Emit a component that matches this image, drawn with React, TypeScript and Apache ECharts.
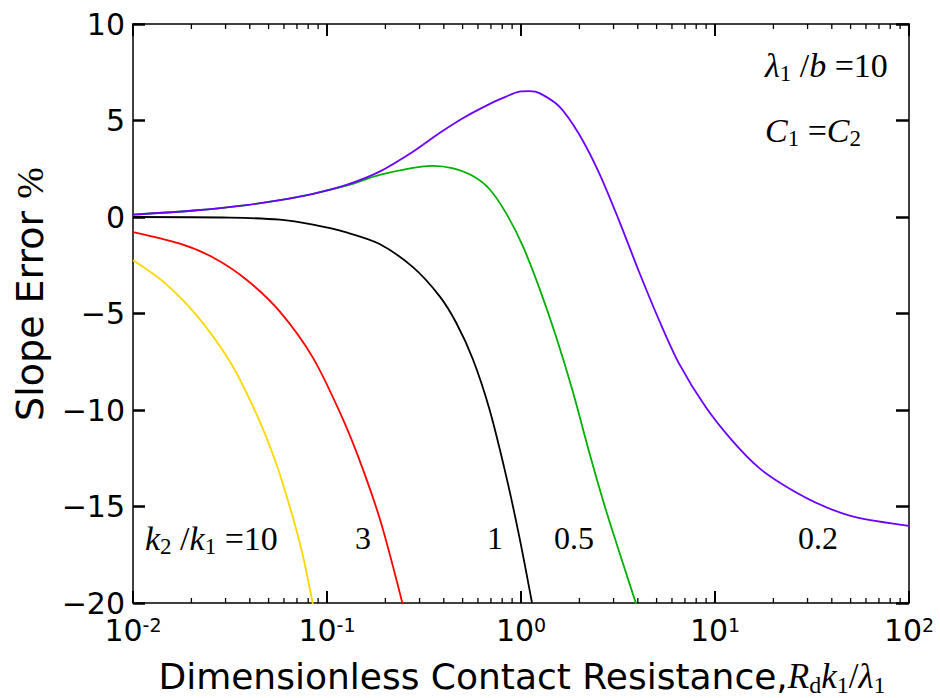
import React, { useEffect, useRef } from "react";
import * as echarts from "echarts";

// k2/k1 = 10 (yellow)
const yellowX = [0.01, 0.01432, 0.02128, 0.03162, 0.04325, 0.05483, 0.06683, 0.07534, 0.08472];
const yellowY = [-2.24, -3.35, -5.1, -7.5, -10.2, -12.8, -15.6, -17.6, -20.1];
// k2/k1 = 3 (red)
const redX = [0.01, 0.01746, 0.02588, 0.03846, 0.05715, 0.08472, 0.1211, 0.1535, 0.1905, 0.246];
const redY = [-0.78, -1.38, -2.1, -3.25, -4.9, -7.3, -10.5, -13.1, -15.9, -20.1];
// k2/k1 = 1 (black)
const blackX = [0.01, 0.03162, 0.05715, 0.08472, 0.1259, 0.1866, 0.2773, 0.3802, 0.4634, 0.5649, 0.6871, 0.8375, 0.9817, 1.14];
const blackY = [0, -0.03, -0.14, -0.4, -0.8, -1.4, -2.6, -4.1, -5.48, -7.37, -9.95, -13.4, -16.6, -20.0];
// k2/k1 = 0.5 (green)
const greenX = [0.01, 0.02128, 0.03846, 0.05715, 0.08472, 0.1259, 0.1866, 0.2773, 0.3516, 0.4467, 0.5649, 0.6871, 0.8375, 1.021, 1.245, 1.517, 1.845, 2.249, 2.742, 3.342, 3.936];
const greenY = [0.12, 0.35, 0.62, 0.87, 1.2, 1.62, 2.18, 2.55, 2.65, 2.52, 2.12, 1.45, 0.2, -1.5, -3.7, -6.2, -9.0, -12.2, -15.2, -17.9, -20.1];
// k2/k1 = 0.2 (purple)
const purpleX = [0.01, 0.02128, 0.03846, 0.05715, 0.08472, 0.1259, 0.1866, 0.2773, 0.3802, 0.5012, 0.6871, 0.8318, 0.9817, 1.109, 1.245, 1.578, 2.0, 2.535, 3.206, 4.064, 5.152, 6.531, 8.954, 12.3, 16.87, 24.04, 35.73, 52.97, 100];
const purpleY = [0.12, 0.35, 0.62, 0.87, 1.2, 1.66, 2.35, 3.38, 4.35, 5.12, 5.85, 6.22, 6.5, 6.52, 6.42, 5.72, 4.26, 2.25, -0.2, -2.85, -5.35, -7.6, -9.85, -11.6, -13.0, -14.05, -14.95, -15.55, -16.0];

const yTicks = [-20, -15, -10, -5, 0, 5, 10];
const minorTickValues = [
  0.02, 0.03, 0.04, 0.05, 0.06, 0.07, 0.08, 0.09,
  0.2, 0.3, 0.4, 0.5, 0.6, 0.7, 0.8, 0.9,
  2, 3, 4, 5, 6, 7, 8, 9,
  20, 30, 40, 50, 60, 70, 80, 90,
];

const SANS = "DejaVu Sans";
const SERIF = "Liberation Serif";

function zip(xs: number[], ys: number[]) {
  return xs.map((x, i) => [x, ys[i]]);
}

export default function App() {
  const ref = useRef<HTMLDivElement>(null);
  useEffect(() => {
    const chart = echarts.init(ref.current!, null, { renderer: "svg" });
    const lineSeries = (name: string, xs: number[], ys: number[], color: string) => ({
      type: "line",
      name,
      data: zip(xs, ys),
      showSymbol: false,
      symbol: "none",
      smooth: 0.3,
      clip: true,
      lineStyle: { color, width: 1.8 },
      z: 5,
    });
    const xLabelRich = {
      b: { fontSize: 30, fontFamily: SANS, color: "#000", lineHeight: 30 },
      s: { fontSize: 19, fontFamily: SANS, color: "#000", lineHeight: 14, verticalAlign: "top" },
    };
    const mathRich = (size: number) => ({
      m: { fontSize: size, fontFamily: SERIF, fontStyle: "italic", fill: "#000", lineHeight: size + 6 },
      n: { fontSize: size, fontFamily: SERIF, fill: "#000", lineHeight: size + 6 },
      sub: { fontSize: Math.round(size * 0.68), fontFamily: SERIF, fill: "#000", lineHeight: Math.round(size * 0.68), verticalAlign: "bottom" },
      a: { fontSize: 36, fontFamily: SANS, fill: "#000", lineHeight: size + 6 },
    });
    const xAxisBase = {
      type: "log",
      logBase: 10,
      min: 0.01,
      max: 100,
      axisLine: { onZero: false, lineStyle: { color: "#000", width: 1.5 } },
      axisTick: { inside: true, length: 12, lineStyle: { color: "#000", width: 2 } },
      splitLine: { show: false },
    };
    const yAxisBase = {
      type: "value",
      min: yTicks[0],
      max: yTicks[yTicks.length - 1],
      interval: 5,
      axisLine: { show: true, onZero: false, lineStyle: { color: "#000", width: 1.5 } },
      splitLine: { show: false },
    };
    const option: any = {
      animation: false,
      backgroundColor: "#fff",
      grid: { left: 133, top: 24, right: 31, bottom: 95, containLabel: false },
      xAxis: [
        {
          ...xAxisBase,
          position: "bottom",
          axisLabel: {
            margin: 12,
            formatter: (v: number) => `{b|10}{s|${Math.round(Math.log10(v))}}`,
            rich: xLabelRich,
          },
        },
        {
          ...xAxisBase,
          position: "top",
          axisLabel: { show: false },
        },
      ],
      yAxis: [
        {
          ...yAxisBase,
          position: "left",
          axisTick: { show: true, inside: true, length: 12, lineStyle: { color: "#000", width: 2.5 } },
          axisLabel: {
            margin: 8,
            fontSize: 30,
            fontFamily: SANS,
            color: "#000",
            lineHeight: 22,
            formatter: (v: number) => (v < 0 ? "\u2212" + Math.abs(v) : String(v)),
          },
        },
        {
          ...yAxisBase,
          position: "right",
          axisTick: { show: true, inside: true, length: 13, lineStyle: { color: "#000", width: 2.5 } },
          axisLabel: { show: false },
        },
      ],
      series: [
        lineSeries("10", yellowX, yellowY, "#ffd700"),
        lineSeries("3", redX, redY, "#ff0000"),
        lineSeries("1", blackX, blackY, "#000000"),
        lineSeries("0.5", greenX, greenY, "#00b000"),
        lineSeries("0.2", purpleX, purpleY, "#6a00ff"),
        {
          type: "custom",
          silent: true,
          clip: false,
          z: 3,
          data: minorTickValues.map((v) => [v, -20]),
          renderItem: (params: any, api: any) => {
            const v = api.value(0);
            const b = api.coord([v, -20]);
            const t = api.coord([v, 10]);
            return {
              type: "group",
              children: [
                { type: "line", shape: { x1: b[0], y1: b[1], x2: b[0], y2: b[1] - 5 }, style: { stroke: "#000", lineWidth: 1.3 } },
                { type: "line", shape: { x1: t[0], y1: t[1], x2: t[0], y2: t[1] + 5 }, style: { stroke: "#000", lineWidth: 1.3 } },
              ],
            };
          },
        },
      ],
      graphic: [
        {
          type: "text",
          x: 30,
          y: 294,
          rotation: Math.PI / 2,
          style: {
            text: "{a|Slope Error }{p|%}",
            rich: {
              a: { fontSize: 38, fontFamily: SANS, fill: "#000" },
              p: { fontSize: 38, fontFamily: SERIF, fill: "#000" },
            },
            textAlign: "center",
            textVerticalAlign: "middle",
          },
        },
        {
          type: "text",
          x: 522,
          y: 676,
          style: {
            text: "{a|Dimensionless Contact Resistance,}{m|R}{sub|d}{m|k}{sub|1}{n|/}{m|\u03bb}{sub|1}",
            rich: mathRich(35),
            textAlign: "center",
            textVerticalAlign: "middle",
          },
        },
        {
          type: "text",
          x: 145,
          y: 538,
          style: {
            text: "{m|k}{sub|2}{n| /}{m|k}{sub|1}{n| =10}",
            rich: mathRich(34),
            textAlign: "left",
            textVerticalAlign: "middle",
          },
        },
        { type: "text", x: 363, y: 538, style: { text: "3", font: `32px "${SERIF}"`, fill: "#000", textAlign: "center", textVerticalAlign: "middle" } },
        { type: "text", x: 495, y: 538, style: { text: "1", font: `32px "${SERIF}"`, fill: "#000", textAlign: "center", textVerticalAlign: "middle" } },
        { type: "text", x: 574, y: 538, style: { text: "0.5", font: `32px "${SERIF}"`, fill: "#000", textAlign: "center", textVerticalAlign: "middle" } },
        { type: "text", x: 818, y: 538, style: { text: "0.2", font: `32px "${SERIF}"`, fill: "#000", textAlign: "center", textVerticalAlign: "middle" } },
        {
          type: "text",
          x: 765,
          y: 65,
          style: {
            text: "{m|\u03bb}{sub|1}{n| /}{m|b}{n| =10}",
            rich: mathRich(34),
            textAlign: "left",
            textVerticalAlign: "middle",
          },
        },
        {
          type: "text",
          x: 765,
          y: 130,
          style: {
            text: "{m|C}{sub|1}{n| =}{m|C}{sub|2}",
            rich: mathRich(34),
            textAlign: "left",
            textVerticalAlign: "middle",
          },
        },
      ],
    };
    chart.setOption(option);
    return () => chart.dispose();
  }, []);
  return <div ref={ref} style={{ position: "fixed", left: 0, top: 0, width: 940, height: 698 }} />;
}
